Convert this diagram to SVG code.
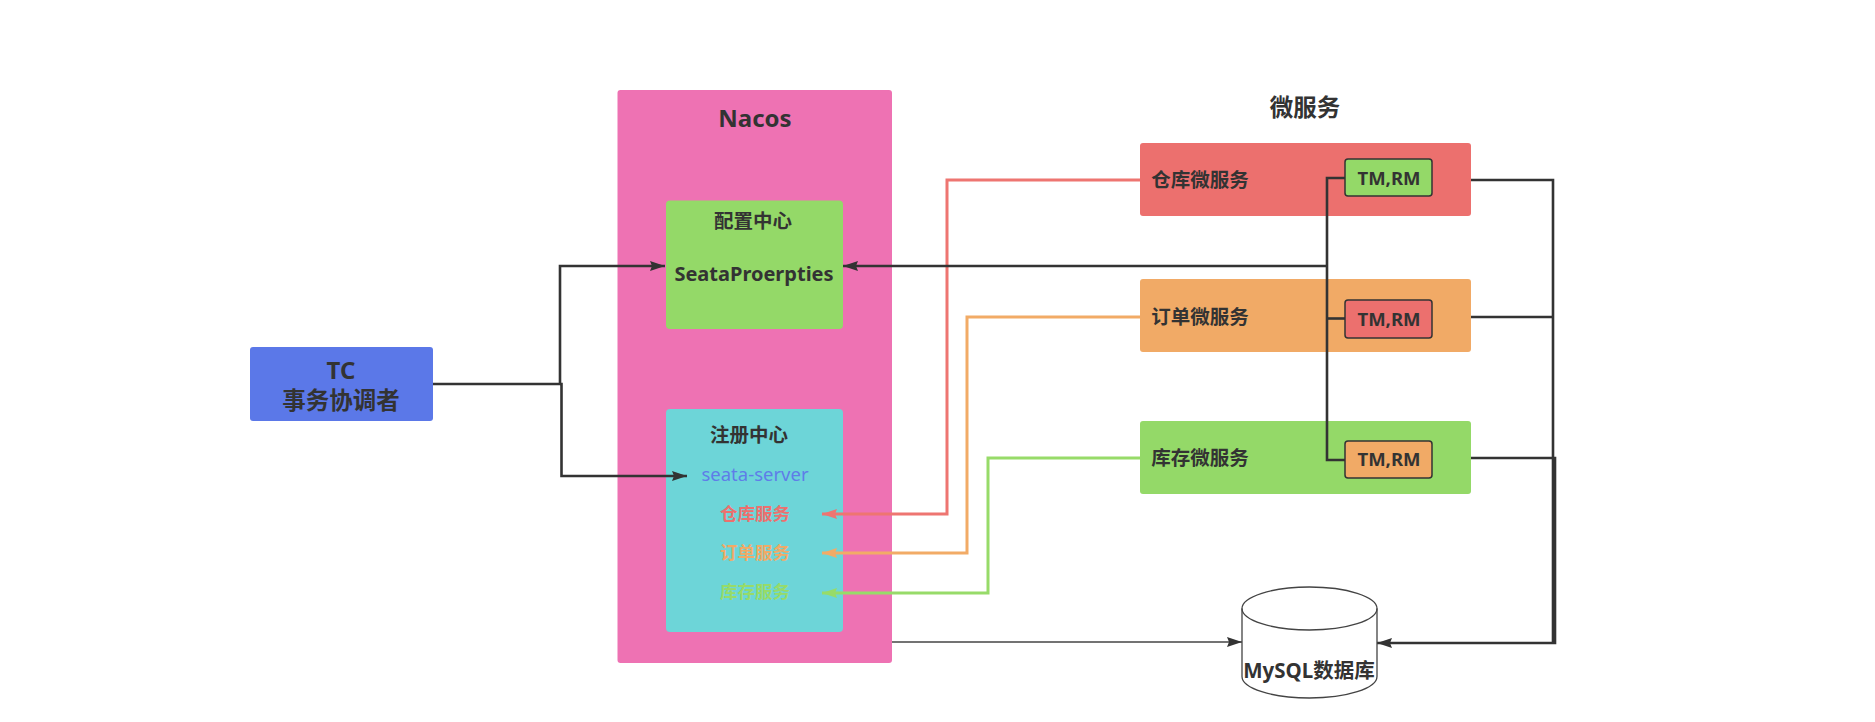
<svg xmlns="http://www.w3.org/2000/svg" width="1875" height="722" viewBox="0 0 1875 722">
<style>
text{font-family:"Noto Sans","Noto Sans CJK SC",sans-serif;fill:#333;font-weight:700;text-anchor:middle}
.f{fill:none;stroke-linejoin:miter}
.k{stroke:#333;stroke-width:2.6}
.k1{stroke:#444;stroke-width:1.4}
.r{stroke:#ee7571;stroke-width:3}
.o{stroke:#f2ab66;stroke-width:3}
.g{stroke:#97db69;stroke-width:3}
.s20{font-size:19.5px}
.s18{font-size:17.5px}
</style>
<defs>
<marker id="ak" markerUnits="userSpaceOnUse" markerWidth="16" markerHeight="10" refX="15" refY="5" orient="auto"><path d="M0 0L15 5L0 10L2 5Z" fill="#333"/></marker>
<marker id="ar" markerUnits="userSpaceOnUse" markerWidth="16" markerHeight="10" refX="15" refY="5" orient="auto"><path d="M0 0L15 5L0 10L2 5Z" fill="#ee7571"/></marker>
<marker id="ao" markerUnits="userSpaceOnUse" markerWidth="16" markerHeight="10" refX="15" refY="5" orient="auto"><path d="M0 0L15 5L0 10L2 5Z" fill="#f2ab66"/></marker>
<marker id="ag" markerUnits="userSpaceOnUse" markerWidth="16" markerHeight="10" refX="15" refY="5" orient="auto"><path d="M0 0L15 5L0 10L2 5Z" fill="#97db69"/></marker>
</defs>
<rect width="1875" height="722" fill="#fff"/>
<g id="nacos"><rect x="617.500" y="90" width="274.500" height="573" rx="3" fill="#ee72b3"/><text x="755" y="127" font-size="24">Nacos</text></g>
<g id="config"><rect x="666" y="200.500" width="177" height="128.500" rx="4" fill="#94d968"/><text class="s20" x="753" y="228">配置中心</text><text x="754" y="281" font-size="20">SeataProerpties</text></g>
<g id="registry"><rect x="666" y="409" width="177" height="223" rx="4" fill="#6dd5d8"/><text class="s20" x="749" y="442">注册中心</text>
<text x="755" y="481" font-size="18.500" style="font-weight:400;fill:#5f7de8">seata-server</text>
<text class="s18" x="755" y="520" style="fill:#ec706e">仓库服务</text>
<text class="s18" x="755" y="559" style="fill:#f1aa66">订单服务</text>
<text class="s18" x="755" y="598" style="fill:#97db69">库存服务</text></g>
<g id="tc"><rect x="250" y="347" width="183" height="74" rx="3" fill="#5b78e8"/><text x="341" y="379" font-size="24">TC</text><text x="341" y="409" font-size="23.500">事务协调者</text></g>
<text x="1305" y="116" font-size="23.500">微服务</text>
<g id="svc-warehouse"><rect x="1140" y="143" width="331" height="73" rx="3" fill="#ec706e"/><text class="s20" x="1200" y="187">仓库微服务</text></g>
<g id="svc-order"><rect x="1140" y="279" width="331" height="73" rx="3" fill="#f1aa66"/><text class="s20" x="1200" y="324">订单微服务</text></g>
<g id="svc-stock"><rect x="1140" y="421" width="331" height="73" rx="3" fill="#94d968"/><text class="s20" x="1200" y="465">库存微服务</text></g>
<g id="connectors">
<path class="f k" d="M433 384H560V266H665" marker-end="url(#ak)"/>
<path class="f k" d="M560 384H561.500V476H687" marker-end="url(#ak)"/>
<path class="f r" d="M1140 180H947V514H822" marker-end="url(#ar)"/>
<path class="f o" d="M1140 317H967V553H822" marker-end="url(#ao)"/>
<path class="f g" d="M1140 458H988V593H822" marker-end="url(#ag)"/>
<path class="f k" d="M1345 178H1327V460H1345"/>
<path class="f k" d="M1327 318.500H1345"/>
<path class="f k" d="M1327 266H843" marker-end="url(#ak)"/>
<path class="f k" d="M1471 180H1553V643"/>
<path class="f k" d="M1471 317H1553"/>
<path class="f k" d="M1471 458H1555V643H1377" marker-end="url(#ak)"/>
<path class="f k1" d="M892 642H1242" marker-end="url(#ak)"/>
</g>
<g id="tm1"><rect x="1345" y="159" width="87" height="37" rx="3" fill="#94d968" stroke="#333" stroke-width="1.500"/><text x="1389" y="185" font-size="18.500">TM,RM</text></g>
<g id="tm2"><rect x="1345" y="300" width="87" height="38" rx="3" fill="#ec706e" stroke="#333" stroke-width="1.500"/><text x="1389" y="326" font-size="18.500">TM,RM</text></g>
<g id="tm3"><rect x="1345" y="441" width="87" height="37" rx="3" fill="#f1aa66" stroke="#333" stroke-width="1.500"/><text x="1389" y="466" font-size="18.500">TM,RM</text></g>
<g id="mysql"><path d="M1242 608.500A67.500 21.500 0 0 1 1377 608.500V676.500A67.500 21.500 0 0 1 1242 676.500Z" fill="#fff" stroke="#444" stroke-width="1.300"/><path d="M1242 608.500A67.500 21.500 0 0 0 1377 608.500" fill="none" stroke="#444" stroke-width="1.300"/><text x="1309" y="678" font-size="20.500">MySQL数据库</text></g>
</svg>
